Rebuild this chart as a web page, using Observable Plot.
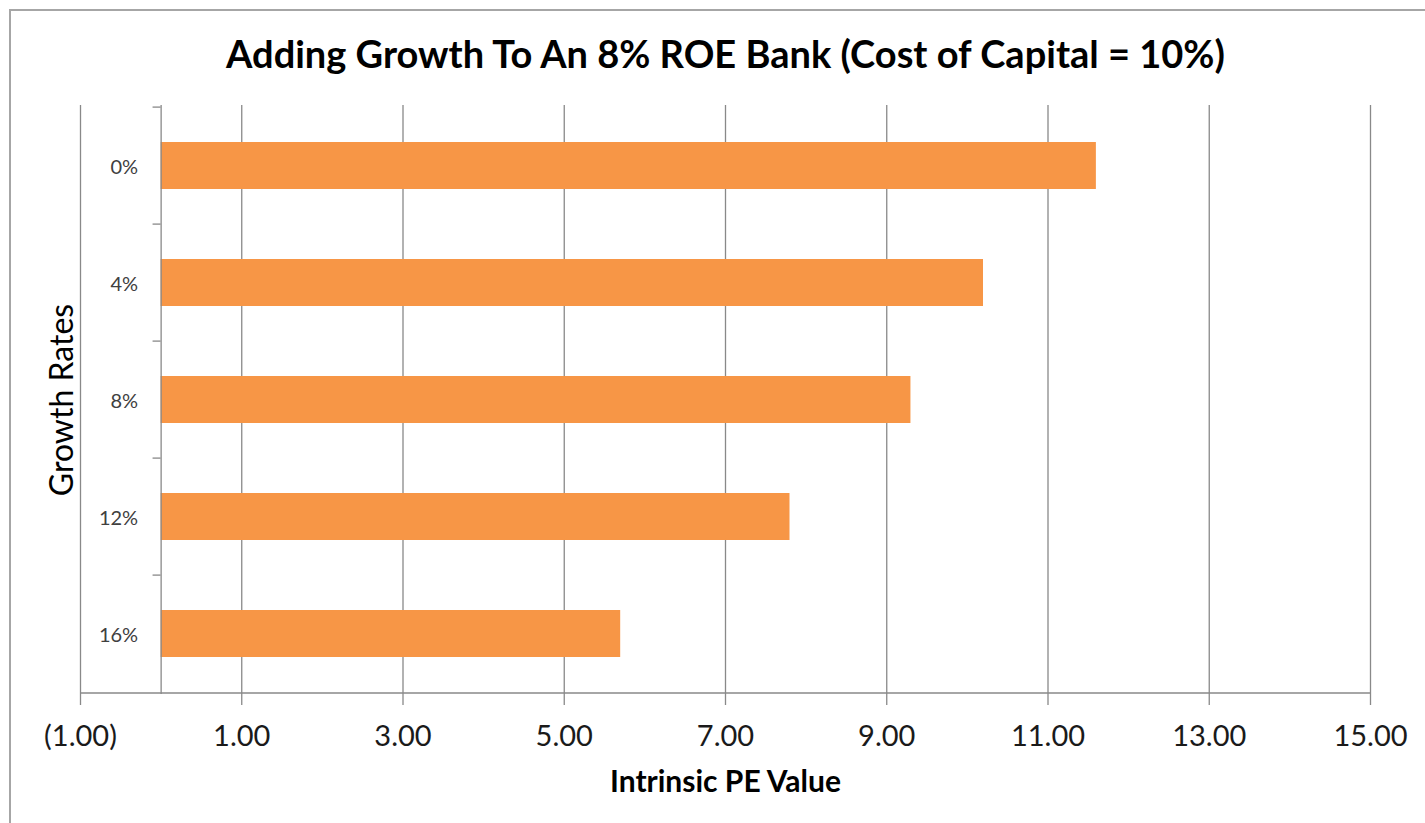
<!DOCTYPE html>
<html>
<head>
<meta charset="utf-8">
<script src="https://cdn.jsdelivr.net/npm/d3@7"></script>
<script src="https://cdn.jsdelivr.net/npm/@observablehq/plot@0.6"></script>
<style>
  html, body { margin: 0; padding: 0; background: #fff; overflow: hidden; }
  #wrap { position: relative; width: 1425px; height: 823px; }
  #frame { position: absolute; left: 9px; top: 9px; width: 1500px; height: 900px;
           border-top: 2px solid #a6a6a6; border-left: 2px solid #a6a6a6; pointer-events: none; }
  #title { height: 60px; padding-top: 30px; padding-left: 26px; text-align: center; font-family: Lato, sans-serif;
           font-weight: bold; font-size: 38px; line-height: 46px; color: #000; }
  #chart svg { display: block; }
</style>
</head>
<body>
<div id="wrap">
  <div id="frame"></div>
  <div id="title">Adding Growth To An 8% ROE Bank (Cost of Capital = 10%)</div>
  <div id="chart"></div>
</div>
<script>
const categories = ["0%", "4%", "8%", "12%", "16%"];
const values = [11.6, 10.2, 9.3, 7.8, 5.7];
const xTicks = [-1, 1, 3, 5, 7, 9, 11, 13, 15];
const xLabel = "Intrinsic PE Value";
const yLabel = "Growth Rates";

const data = categories.map((c, i) => ({cat: c, value: values[i]}));

const W = 1425, H = 733, mt = 15, mb = 129, ml = 80, mr = 55;
const pInner = 0.6, pOuter = 0.3;
const step = (H - mt - mb) / (categories.length - pInner + 2 * pOuter);
const gray = "#898989";
const fmt = v => v < 0 ? `(${Math.abs(v).toFixed(2)})` : v.toFixed(2);

const boundaries = categories.map(c => ({cat: c, dy: -step / 2}));

const chart = Plot.plot({
  width: W, height: H,
  marginTop: mt, marginBottom: mb, marginLeft: ml, marginRight: mr,
  style: {fontFamily: "Lato, sans-serif", background: "white"},
  x: {domain: [xTicks[0], xTicks[xTicks.length - 1]], axis: null},
  y: {domain: categories, paddingInner: pInner, paddingOuter: pOuter, axis: null},
  marks: [
    Plot.gridX(xTicks, {stroke: gray, strokeOpacity: 1, strokeWidth: 1.3}),
    Plot.barX(data, {x: "value", y: "cat", fill: "#F79646"}),
    Plot.ruleX([0], {stroke: gray, strokeWidth: 1.3}),
    // category boundary ticks on the y axis
    ...boundaries.map(b =>
      Plot.ruleY([b.cat], {x1: -0.1, x2: 0, dy: b.dy, stroke: gray, strokeWidth: 1.3})),
    // x axis line
    Plot.ruleY([categories[categories.length - 1]], {x1: xTicks[0], x2: xTicks[xTicks.length - 1], dy: step / 2, stroke: gray, strokeWidth: 1.5}),
    Plot.axisX({ticks: xTicks, tickFormat: fmt, tickSize: 11, tickPadding: 20, fontSize: 29,
                stroke: gray, strokeWidth: 1.3, fill: "#1a1a1a", label: null}),
    Plot.text(categories, {x: 0, y: d => d, text: d => d, textAnchor: "end", dx: -23, dy: 2,
                           fontSize: 20, fill: "#404040"}),
    Plot.text([yLabel], {frameAnchor: "left", textAnchor: "middle", rotate: -90, dx: -18, fontSize: 32, fill: "#000"}),
    Plot.text([xLabel], {frameAnchor: "bottom", textAnchor: "middle", dy: 97, fontSize: 30, fontWeight: "bold", fill: "#000"})
  ]
});
document.getElementById("chart").appendChild(chart);
</script>
</body>
</html>
